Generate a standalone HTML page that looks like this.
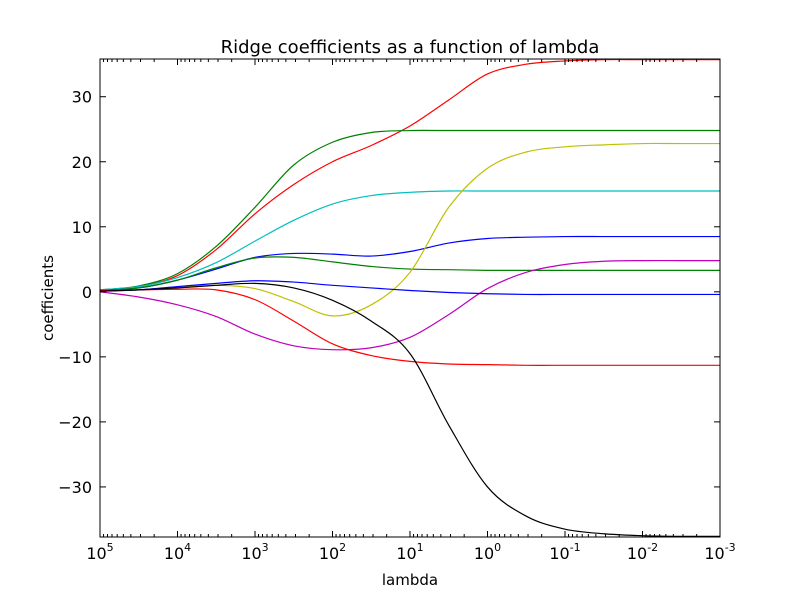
<!DOCTYPE html>
<html><head><meta charset="utf-8"><style>
body{margin:0;background:#fff;}
svg text{font-family:"DejaVu Sans","Liberation Sans",sans-serif;fill:#000;}
</style></head><body>
<svg id="chart" width="800" height="597">
<rect x="0" y="0" width="800" height="597" fill="#fff"/>
<text x="410" y="53" font-size="18" text-anchor="middle">Ridge coefficients as a function of lambda</text>
<text x="410" y="585" font-size="15" text-anchor="middle">lambda</text>
<text x="53" y="298" font-size="15" text-anchor="middle" transform="rotate(-90 53 298)">coefficients</text>
<g id="series"></g>
<g id="axes"></g>
<rect x="100" y="59" width="620" height="478" fill="none" stroke="#000" stroke-width="1"/>
</svg>
<script>
const logLambda=[5,4.5,4,3.5,3,2.5,2,1.5,1,0.5,0,-0.5,-1,-1.5,-2,-2.5,-3];
const seriesColors=['#ff0000','#008000','#00bfbf','#0000ff','#008000','#bfbf00','#bf00bf','#ff0000','#0000ff','#000000'];
const s0=[0.3,0.8,2.5,6.5,12,16.5,20,22.5,25.5,29.5,33.5,35,35.5,35.7,35.7,35.7,35.7];
const s1=[0.3,0.9,2.8,7,13,19.5,23,24.5,24.8,24.8,24.8,24.8,24.8,24.8,24.8,24.8,24.8];
const s2=[0.3,0.8,2.2,4.5,7.8,11,13.5,14.8,15.3,15.5,15.5,15.5,15.5,15.5,15.5,15.5,15.5];
const s3=[0.2,0.6,1.8,3.5,5.3,5.9,5.8,5.5,6.2,7.5,8.2,8.4,8.5,8.5,8.5,8.5,8.5];
const s4=[0.2,0.6,1.8,3.7,5.2,5.3,4.6,3.9,3.5,3.4,3.3,3.3,3.3,3.3,3.3,3.3,3.3];
const s5=[0.1,0.3,0.7,1.0,0.5,-1.5,-3.7,-2,3,13,19,21.5,22.3,22.6,22.8,22.8,22.8];
const s6=[0,-0.8,-2,-3.8,-6.5,-8.3,-8.9,-8.6,-7,-3.5,0.5,3,4.2,4.7,4.8,4.8,4.8];
const s7=[0.2,0.3,0.4,0.3,-1.2,-4.5,-8,-9.8,-10.7,-11.1,-11.2,-11.3,-11.3,-11.3,-11.3,-11.3,-11.3];
const s8=[0.1,0.3,0.8,1.3,1.7,1.5,1.0,0.6,0.2,-0.1,-0.3,-0.4,-0.4,-0.4,-0.4,-0.4,-0.4];
const s9=[0.1,0.3,0.6,1.0,1.3,0.6,-1.3,-4.5,-9.5,-20.5,-30,-34.5,-36.5,-37.2,-37.5,-37.6,-37.6];
const allSeries=[s0,s1,s2,s3,s4,s5,s6,s7,s8,s9];
const yTicks=[-30,-20,-10,0,10,20,30];
const xTickExps=[5,4,3,2,1,0,-1,-2,-3];
const X0=100,X1=720,Y0=59,Y1=537,xMax=5,xMin=-3,yMin=-37.7,yMax=35.8;
function xs(L){return X0+(xMax-L)/(xMax-xMin)*(X1-X0);}
function ys(v){return Y1-(v-yMin)/(yMax-yMin)*(Y1-Y0);}
const NS='http://www.w3.org/2000/svg';
const sg=document.getElementById('series'),ag=document.getElementById('axes');
function mk(t,a,p){const e=document.createElementNS(NS,t);for(const k in a)e.setAttribute(k,a[k]);p.appendChild(e);return e;}
allSeries.forEach((vals,i)=>{
  const pts=vals.map((v,j)=>[xs(logLambda[j]),ys(v)]);
  let d='M'+pts[0][0]+','+pts[0][1];
  for(let j=0;j<pts.length-1;j++){
    const p0=pts[Math.max(0,j-1)],p1=pts[j],p2=pts[j+1],p3=pts[Math.min(pts.length-1,j+2)];
    const c1=[p1[0]+(p2[0]-p0[0])/6,p1[1]+(p2[1]-p0[1])/6],c2=[p2[0]-(p3[0]-p1[0])/6,p2[1]-(p3[1]-p1[1])/6];
    d+=' C'+c1+' '+c2+' '+p2;
  }
  const path=mk('path',{d:d,fill:'none',stroke:seriesColors[i],'stroke-width':1.2},sg);
  
  
});
const clip=mk('clipPath',{id:'c'},sg);mk('rect',{x:X0,y:Y0,width:X1-X0,height:Y1-Y0},clip);sg.setAttribute('clip-path','url(#c)');
yTicks.forEach(t=>{
  const y=ys(t);
  mk('line',{x1:X0,x2:X0+6,y1:y,y2:y,stroke:'#000'},ag);
  mk('line',{x1:X1,x2:X1-6,y1:y,y2:y,stroke:'#000'},ag);
  const tx=mk('text',{x:X0-8,y:y+6,'font-size':16,'text-anchor':'end'},ag);
  tx.textContent=(t<0?'\u2212':'')+Math.abs(t);
  
  
});
xTickExps.forEach((e,k)=>{
  const x=xs(e);
  mk('line',{x1:x,x2:x,y1:Y1,y2:Y1-6,stroke:'#000'},ag);
  mk('line',{x1:x,x2:x,y1:Y0,y2:Y0+6,stroke:'#000'},ag);
  if(k<xTickExps.length-1){for(let m=2;m<10;m++){const xm=xs(e-1+Math.log10(m));
    mk('line',{x1:xm,x2:xm,y1:Y1,y2:Y1-3,stroke:'#000'},ag);mk('line',{x1:xm,x2:xm,y1:Y0,y2:Y0+3,stroke:'#000'},ag);}}
  const tx=mk('text',{x:x,y:Y1+22,'font-size':16,'text-anchor':'middle'},ag);
  tx.textContent='10';
  const sp=mk('tspan',{dy:-8,'font-size':11},tx);sp.textContent=e;
  
  
});
</script>
</body></html>
